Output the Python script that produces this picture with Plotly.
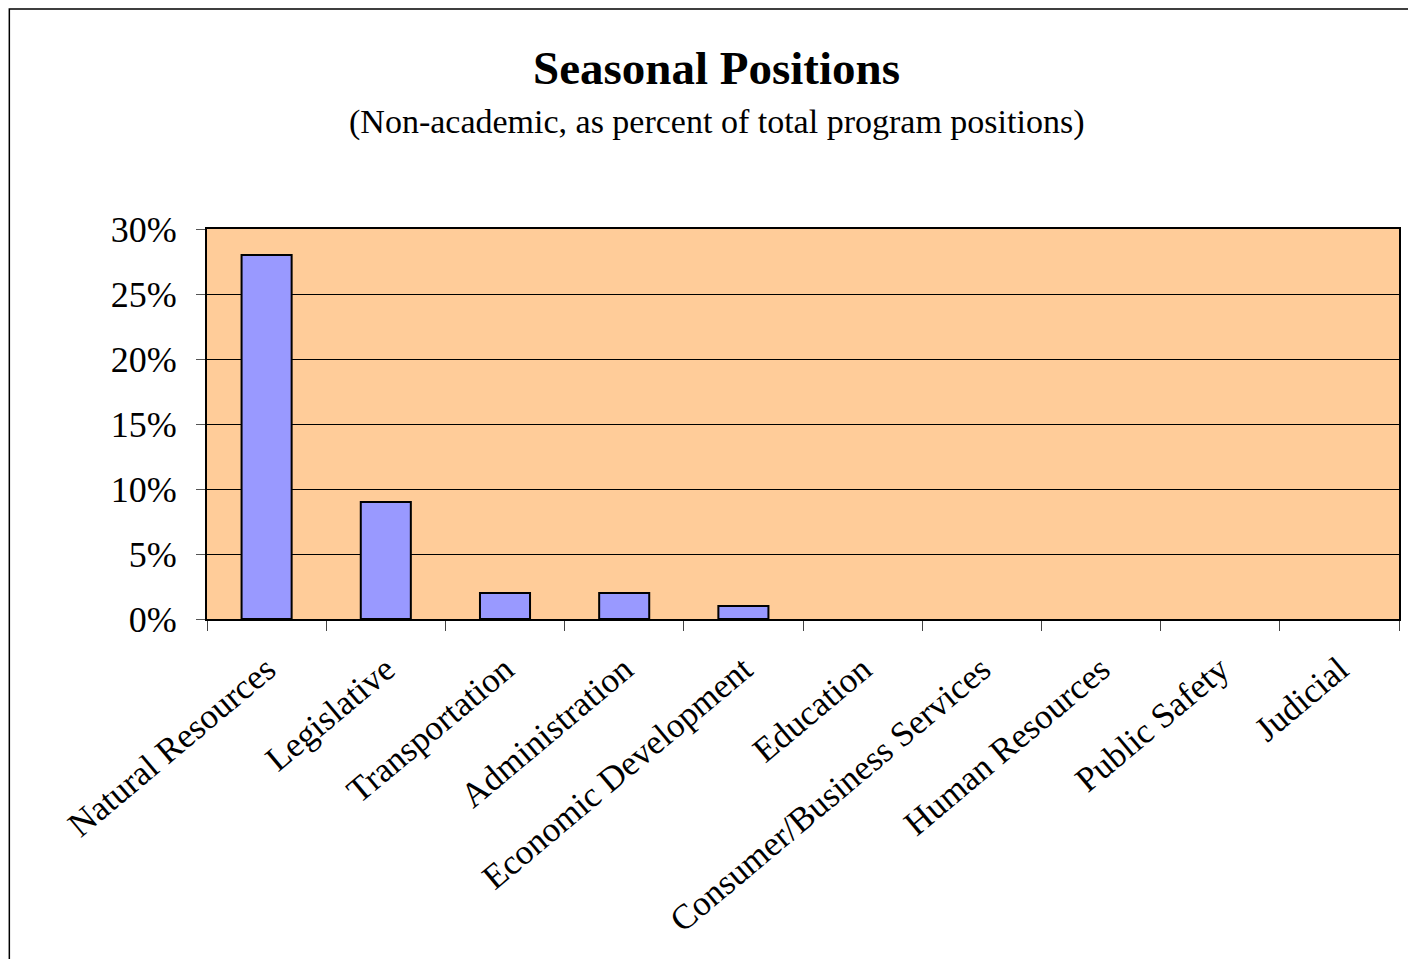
import plotly.graph_objects as go

categories = ["Natural Resources", "Legislative", "Transportation", "Administration",
              "Economic Development", "Education", "Consumer/Business Services",
              "Human Resources", "Public Safety", "Judicial"]
values = [0.28, 0.09, 0.02, 0.02, 0.01, 0, 0, 0, 0, 0]
title_text = "Seasonal Positions"
subtitle_text = "(Non-academic, as percent of total program positions)"

OFF = 8  # page body margin
W, H = 1416 - 2 * OFF, 967 - 2 * OFF
L, R, T, B = 207 - OFF, 1401 - OFF, 229 - OFF, 619 - OFF

FONT = "Liberation Serif, Times New Roman, serif"

fig = go.Figure(go.Bar(
    x=categories, y=values,
    marker=dict(color="#9999FF",
                line=dict(color="black", width=[2 if v > 0 else 0 for v in values])),
    width=0.42,
))

fig.update_layout(
    width=W, height=H,
    margin=dict(l=L, r=W - R, t=T, b=H - B, pad=0),
    paper_bgcolor="white", plot_bgcolor="#FFCC99",
    font=dict(family=FONT, color="black", size=36),
    showlegend=False,
)
fig.update_xaxes(
    type="category", showline=True, mirror=True, linecolor="black", linewidth=2,
    ticks="outside", tickson="boundaries", ticklen=10, tickcolor="#444", tickwidth=1,
    tickangle=-40, tickfont=dict(size=35, family=FONT), showgrid=False,
    ticklabelstandoff=14,
)
fig.update_yaxes(
    range=[0, 0.3], dtick=0.05, tickformat=".0%", showline=True, mirror=True,
    linecolor="black", linewidth=2, ticks="outside", ticklen=9, tickcolor="#555",
    gridcolor="black", gridwidth=1, tickfont=dict(size=36, family=FONT),
    zeroline=False, ticklabelstandoff=12,
)

def px(x):
    return (x - OFF - L) / (R - L)

def py(y):
    return (B - (y - OFF)) / (B - T)

fig.add_shape(type="rect", xref="paper", yref="paper",
              x0=px(9), x1=px(1440), y0=py(990), y1=py(9),
              line=dict(color="black", width=1.5), fillcolor="rgba(0,0,0,0)", layer="below")

fig.add_annotation(text="<b>" + title_text + "</b>", xref="paper", yref="paper",
                   x=px(717), y=py(68), showarrow=False,
                   font=dict(size=47, family=FONT), xanchor="center", yanchor="middle")
fig.add_annotation(text=subtitle_text, xref="paper", yref="paper",
                   x=px(717), y=py(122), showarrow=False,
                   font=dict(size=34, family=FONT), xanchor="center", yanchor="middle")

fig.write_html("out.html")
